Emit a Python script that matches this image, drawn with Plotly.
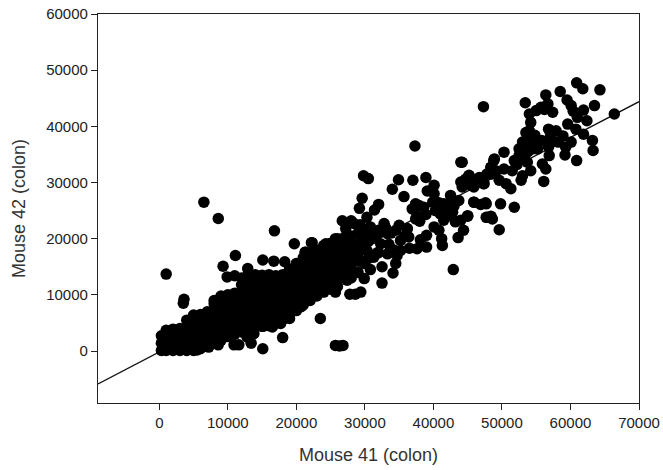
import plotly.graph_objects as go

# All values in thousands of counts (multiplied by 1000 when plotted)
outliers = [(1.0,13.7),(6.5,26.5),(8.6,23.6),(16.8,21.4),(19.7,19.1),(22.3,19.3),(11.1,17.0),(9.3,15.1),
 (9.9,13.2),(11.0,13.4),(15.1,16.2),(16.7,16.0),(18.3,15.9),(21.3,17.6),(12.9,14.7),(3.6,9.2),(3.5,8.5),
 (15.1,0.4),(18.0,2.4),(10.9,1.1),(11.6,1.1),(13.4,1.4),(12.8,2.5),(13.8,3.1),(8.6,1.1),(7.2,0.7),(5.5,0.2),
 (19.0,5.8),(20.7,7.9),(23.5,5.8),(22.6,10.0),(17.7,4.9),(16.5,4.3),(15.1,4.4),(25.7,1.0),(26.3,0.9),(26.8,1.0)]

mid_points = [(37.3,36.5),(44.0,33.6),(29.8,31.2),(30.5,30.7),(34.9,30.5),(34.0,28.8),(37.0,30.4),(38.9,30.9),
 (40.1,29.5),(39.1,28.5),(35.7,27.5),(29.6,27.2),(29.2,25.4),(32.0,26.1),(31.4,25.1),(37.4,26.2),(36.9,25.3),
 (38.6,25.6),(37.4,23.5),(38.0,23.1),(40.3,25.0),(41.5,23.3),(42.0,25.6),(42.5,27.7),(43.7,26.8),(44.0,30.1),
 (45.4,30.1),(46.9,30.6),(48.4,32.7),(48.8,33.9),(45.9,26.5),(47.6,26.4),(47.9,23.8),(48.6,23.5),(49.6,21.6),
 (45.0,24.0),(44.0,23.3),(44.4,21.5),(43.6,20.2),(42.9,14.5),(40.1,22.1),(40.8,21.5),(41.2,20.0),(41.3,18.8),
 (39.0,20.6),(38.1,19.8),(39.0,18.5),(37.6,18.2),(36.2,21.8),(35.0,22.4),(32.8,22.7),(30.3,23.8),(28.4,22.7),
 (26.7,23.2),(27.2,21.8),(25.7,20.0),(24.3,19.1),(22.2,19.3),(21.3,17.6),(29.4,20.3),(30.8,22.1),(33.3,20.9),
 (35.2,19.7),(36.4,20.3),(35.2,17.9),(33.3,17.3),(34.7,17.0),(34.5,15.6),(34.1,13.9),(32.5,15.0),(32.5,12.1),
 (29.9,12.9),(29.4,10.5),(28.6,10.1),(27.8,10.1),(25.7,10.5),(27.4,12.6),(32.3,19.1),(30.3,17.9),(27.9,18.5),
 (25.5,16.7),(23.0,15.6),(21.6,14.4),(23.5,13.2),(25.5,13.8),(27.9,15.0),(29.9,15.6),(31.3,16.7),(26.4,16.7),
 (23.5,17.3),(21.3,12.0),(22.5,10.2),(41.0,24.4),(42.8,24.7),(41.5,26.2),(44.7,30.6),(48.4,31.5),(45.9,29.2),
 (47.3,29.8),(49.1,32.1),(40.1,28.0),
 (40.8,26.4),(41.3,25.0),(42.0,24.0),(43.0,25.8),(39.9,26.5),(37.9,25.9),(43.2,23.0),(45.2,31.3),(45.9,30.5),
 (47.8,31.5),(42.9,26.5),(37.6,24.0),(38.9,24.3),(30.5,19.5),(31.5,20.5),(32.0,21.0),(33.0,22.0),(33.8,21.0),
 (34.5,21.5),(35.8,20.5),(33.5,19.0),(34.2,18.0),(36.5,18.3),(30.5,16.5),(31.8,17.5),(30.8,14.5),(31.0,20.0),
 (29.3,22.5),(28.0,23.2)]

high_points = [(66.4,42.2),(47.3,43.5),(60.9,47.75),(61.8,46.7),(64.3,46.5),(63.5,43.7),(58.5,46.2),(56.4,45.6),
 (53.4,44.2),(59.5,44.7),(60.1,43.7),(61.9,42.9),(62.4,41.0),(61.0,41.6),(59.6,40.4),(60.8,39.5),(61.9,38.6),
 (63.2,37.5),(63.3,35.7),(60.9,33.9),(59.2,34.9),(60.1,37.2),(58.9,38.3),(57.4,42.5),(56.7,44.0),(55.7,43.4),
 (55.0,42.8),(54.0,42.2),(54.2,40.7),(54.0,39.2),(53.5,38.9),(54.0,37.4),(55.0,37.2),(54.5,36.0),(52.5,36.0),
 (50.3,35.4),(48.9,34.2),(48.4,32.7),(50.3,32.4),(51.8,33.9),(51.5,32.1),(52.8,30.4),(54.2,32.1),(55.9,33.3),
 (56.4,32.4),(56.1,30.2),(56.9,34.8),(56.8,36.3),(57.4,37.4),(56.8,39.5),(57.9,39.2),(51.8,25.6),(49.8,26.2),
 (47.7,26.2),(45.9,26.5),(46.9,26.1),(48.4,24.0),(47.7,23.8),(45.0,24.1),(51.3,28.9),(50.6,29.8),(49.6,30.4),
 (47.4,29.8),(46.7,30.9),(45.5,29.5),(45.0,30.9),(44.2,29.2),(44.2,33.6),(53.0,31.2),(52.5,34.8),(53.7,33.6),
 (57.1,38.3),(55.2,36.0),(53.3,36.9),
 (53.8,35.5),(54.8,38.4),(55.8,37.5),(53.0,37.2),(52.2,33.2),(53.2,34.2),
 (58.2,37.2),(59.3,36.3),(60.4,42.7),(56.2,43.0)]

band_x = [0.3,1,2,3,4,5,6,7,8,9,10,11,12,13,14,15,16,17,18,19,20,21,22,23,24,25,26,27,28,29,30,31,32]
band_y = [
 [0.1,1.4,2.7],
 [0.1,1.5,2.9,3.7],
 [0.1,1.5,2.9,3.9],
 [0.1,1.5,2.9,4.0],
 [0.1,1.5,2.9,4.3,5.5],
 [0.1,1.5,2.9,4.3,5.7,6.4],
 [0.4,1.7,3.0,4.4,5.8,6.5],
 [0.9,2.2,3.6,5.0,6.4,7.0],
 [1.5,2.8,4.2,5.6,7.0,8.4,9.0],
 [1.9,3.2,4.6,6.0,7.4,8.8,9.8],
 [2.6,4.0,5.4,6.8,8.2,9.6,10.0],
 [3.0,4.4,5.8,7.2,8.6,10.0,10.3],
 [3.4,4.8,6.2,7.6,9.0,10.4,11.8,13.0],
 [4.0,5.4,6.8,8.2,9.6,11.0,12.4,13.8],
 [4.4,5.8,7.2,8.6,10.0,11.4,12.8,13.6],
 [4.4,5.8,7.2,8.6,10.0,11.4,12.8,13.5],
 [4.5,6.0,7.4,8.8,10.2,11.6,13.0,13.6],
 [5.0,6.4,7.8,9.2,10.6,12.0,13.4],
 [5.6,7.0,8.4,9.8,11.2,12.6,13.6],
 [6.4,7.8,9.2,10.6,12.0,13.4,14.6],
 [7.2,8.6,10.0,11.4,12.8,14.2,15.6],
 [8.2,9.6,11.0,12.4,13.8,15.2,16.6],
 [9.0,10.4,11.8,13.2,14.6,16.0,17.4],
 [9.8,11.2,12.6,14.0,15.4,16.8,18.0],
 [10.5,12.0,13.4,14.8,16.2,17.6,18.8],
 [11.0,12.4,13.8,15.2,16.6,18.0,19.2],
 [11.5,13.0,14.4,15.8,17.2,18.6,20.0],
 [13.0,14.5,16.0,17.4,18.8,20.2],
 [13.0,14.5,16.0,17.5,19.0,20.5],
 [14.0,16.0,17.5,19.0,21.0],
 [16.0,18.5,20.0,21.5],
 [17.0,20.0,21.0],
 [17.5,21.5],
]

fit_x = [-8950, 70000]
fit_y = [-5860, 44400]
x_ticks = [0, 10000, 20000, 30000, 40000, 50000, 60000, 70000]
y_ticks = [0, 10000, 20000, 30000, 40000, 50000, 60000]

pts = outliers + mid_points + high_points
for bx, ys in zip(band_x, band_y):
    pts += [(bx, v) for v in ys]
mouse41 = [p[0] * 1000 for p in pts]
mouse42 = [p[1] * 1000 for p in pts]

FONT = "Liberation Sans, Arial, sans-serif"
fig = go.Figure()
fig.add_trace(go.Scatter(x=fit_x, y=fit_y, mode="lines", line=dict(color="#111111", width=1.4), showlegend=False))
fig.add_trace(go.Scatter(x=mouse41, y=mouse42, mode="markers",
                         marker=dict(color="black", size=11.5, line=dict(width=0)), showlegend=False))
axis = dict(showgrid=False, zeroline=False, showline=True, mirror=True, linecolor="#222222", linewidth=1.3,
            automargin=False, ticks="outside", ticklen=6, tickcolor="#222222", tickwidth=1.2, tickformat="d",
            tickfont=dict(family=FONT, size=15, color="#222222"))
fig.update_layout(
    width=663, height=470, autosize=False, paper_bgcolor="white", plot_bgcolor="white",
    margin=dict(l=98, r=24, t=14, b=67),
    xaxis=dict(axis, range=[-8950, 70000], tickvals=x_ticks,
               title=dict(text="Mouse 41 (colon)", font=dict(family=FONT, size=18, color="#333333"), standoff=18)),
    yaxis=dict(axis, range=[-9250, 60000], tickvals=y_ticks,
               title=dict(text="Mouse 42 (colon)", font=dict(family=FONT, size=18, color="#333333"))),
)
fig.write_html("out.html", config={"displayModeBar": False}, post_script="document.body.style.margin='0';")
